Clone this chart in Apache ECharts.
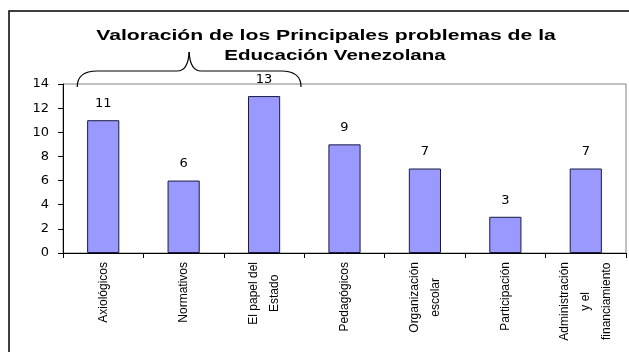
<!DOCTYPE html>
<html><head><meta charset="utf-8">
<script src="https://cdn.jsdelivr.net/npm/echarts@6/dist/echarts.min.js"></script>
<style>html,body{margin:0;padding:0;background:#fff}#c{width:629px;height:352px}</style>
</head><body><div id="c"></div>
<script>
const titleLines = ["Valoración de los Principales problemas de la", "Educación Venezolana"];
const categories = [
  ["Axiológicos"],
  ["Normativos"],
  ["El papel del", "Estado"],
  ["Pedagógicos"],
  ["Organización", "escolar"],
  ["Participación"],
  ["Administración", "y el", "financiamiento"]
];
const values = [11, 6, 13, 9, 7, 3, 7];
const yTicks = { min: 0, max: 14, interval: 2 };

const FONT = '"Liberation Sans", Arial, sans-serif';
const NUMFONT = '"DejaVu Sans", "Liberation Sans", sans-serif';
const chart = echarts.init(document.getElementById('c'), null, { renderer: 'canvas' });
const catNames = categories.map(c => c.join('\n'));

chart.setOption({
  animation: false,
  backgroundColor: '#fff',
  grid: { left: 63, right: 3, top: 84, bottom: 99, show: true, borderColor: '#808080', borderWidth: 1, containLabel: false },
  xAxis: {
    type: 'category',
    data: catNames,
    boundaryGap: true,
    axisLine: { lineStyle: { color: '#000', width: 1 } },
    axisTick: { show: true, alignWithLabel: false, length: 5, lineStyle: { color: '#000' } },
    axisLabel: {
      rotate: 90, margin: 9, interval: 0, color: '#000',
      fontFamily: FONT, fontSize: 12, lineHeight: 21,
      formatter: v => v.split('\n').map(s => '{c|' + s + '}').join('\n'),
      rich: { c: { align: 'center', fontFamily: FONT, fontSize: 12, lineHeight: 21, color: '#000' } }
    }
  },
  yAxis: {
    type: 'value', min: yTicks.min, max: yTicks.max, interval: yTicks.interval,
    axisLine: { show: true, lineStyle: { color: '#000', width: 1 } },
    axisTick: { show: true, length: 5, lineStyle: { color: '#000' } },
    axisLabel: { color: '#000', fontFamily: NUMFONT, fontSize: 13, margin: 14 },
    splitLine: { show: false }
  },
  series: [{
    type: 'bar',
    data: values,
    barWidth: '40%',
    itemStyle: { color: '#9999FF', borderColor: '#1a1a40', borderWidth: 1 },
    label: { show: true, position: 'top', distance: 10, color: '#000', fontFamily: NUMFONT, fontSize: 13 }
  }]
});

function drawGraphics() {
  const p0 = chart.convertToPixel({ xAxisIndex: 0 }, 0);
  const p2 = chart.convertToPixel({ xAxisIndex: 0 }, 2);
  const yTop = chart.convertToPixel({ yAxisIndex: 0 }, yTicks.max);
  const L = p0 - 26, R = p2 + 37, M = (L + R) / 2;
  const yh = yTop - 13, ye = yTop + 3, yp = yTop - 32;
  const st = { stroke: '#000', lineWidth: 1.2, fill: null };
  const braceParts = [
    { type: 'bezierCurve', shape: { x1: L, y1: ye, cpx1: L, cpy1: yh, x2: L + 20, y2: yh }, style: st },
    { type: 'line', shape: { x1: L + 20, y1: yh, x2: M - 12, y2: yh }, style: st },
    { type: 'bezierCurve', shape: { x1: M - 12, y1: yh, cpx1: M - 1, cpy1: yh, x2: M, y2: yp }, style: st },
    { type: 'bezierCurve', shape: { x1: M, y1: yp, cpx1: M + 1, cpy1: yh, x2: M + 12, y2: yh }, style: st },
    { type: 'line', shape: { x1: M + 12, y1: yh, x2: R - 20, y2: yh }, style: st },
    { type: 'bezierCurve', shape: { x1: R - 20, y1: yh, cpx1: R, cpy1: yh, x2: R, y2: ye }, style: st }
  ].map(e => Object.assign({ silent: true, z: 10 }, e));
  chart.setOption({
    graphic: [
      { type: 'rect', shape: { x: 9, y: 11, width: 700, height: 400 }, style: { fill: null, stroke: '#000', lineWidth: 1.5 }, silent: true, z: 10 },
      ...braceParts,
      { type: 'text', x: 326, y: 36, scaleX: 1.41, style: { text: titleLines[0], font: 'bold 15px ' + FONT, fill: '#000', textAlign: 'center', textVerticalAlign: 'middle' }, z: 10 },
      { type: 'text', x: 335, y: 56, scaleX: 1.37, style: { text: titleLines[1], font: 'bold 15px ' + FONT, fill: '#000', textAlign: 'center', textVerticalAlign: 'middle' }, z: 10 }
    ]
  });
}
drawGraphics();
</script></body></html>
